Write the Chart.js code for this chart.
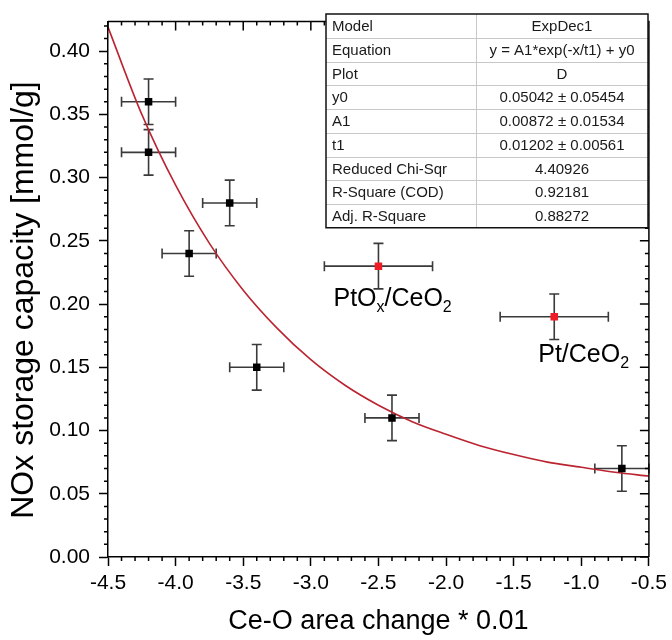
<!DOCTYPE html>
<html>
<head>
<meta charset="utf-8">
<script src="https://cdn.jsdelivr.net/npm/chart.js@4/dist/chart.umd.min.js"></script>
<style>
html, body { margin: 0; padding: 0; background: #fff; }
</style>
</head>
<body>
<canvas id="myChart" width="672" height="640"></canvas>
<script>
// measured samples
var blackX = [-4.2, -4.2, -3.9, -3.6, -3.4, -2.4, -0.7];
var blackY = [0.36, 0.32, 0.24, 0.28, 0.15, 0.11, 0.07];
var blackXErr = [0.2, 0.2, 0.2, 0.2, 0.2, 0.2, 0.2];
var blackYErr = [0.018, 0.018, 0.018, 0.018, 0.018, 0.018, 0.018];

// Pt samples (red)
var redX = [-2.5, -1.2];
var redY = [0.23, 0.19];
var redXErr = [0.4, 0.4];
var redYErr = [0.018, 0.018];

// fitted ExpDec1 curve
var fitX = [-4.5, -4.25, -4.0, -3.75, -3.5, -3.25, -3.0, -2.75, -2.5, -2.25, -2.0, -1.75, -1.5, -1.25, -1.0, -0.75, -0.5];
var fitY = [0.419, 0.350, 0.294, 0.248, 0.211, 0.181, 0.156, 0.136, 0.120, 0.107, 0.097, 0.088, 0.081, 0.075, 0.071, 0.067, 0.064];

// fit report table
var tableLabels = ['Model', 'Equation', 'Plot', 'y0', 'A1', 't1', 'Reduced Chi-Sqr', 'R-Square (COD)', 'Adj. R-Square'];
var tableValues = ['ExpDec1', 'y = A1*exp(-x/t1) + y0', 'D', '0.05042 \u00b1 0.05454', '0.00872 \u00b1 0.01534',
    '0.01202 \u00b1 0.00561', '4.40926', '0.92181', '0.88272'];

var FONT = '"Liberation Sans", Arial, sans-serif';

function pts(xs, ys) {
    return xs.map(function (x, i) { return { x: x, y: ys[i] }; });
}

var errorBars = {
    id: 'errorBars',
    beforeDatasetsDraw: function (chart) {
        var ctx = chart.ctx, sx = chart.scales.x, sy = chart.scales.y;
        var groups = [[blackX, blackY, blackXErr, blackYErr], [redX, redY, redXErr, redYErr]];
        ctx.save();
        ctx.strokeStyle = '#3a3a3a';
        ctx.lineWidth = 1.6;
        groups.forEach(function (g) {
            for (var i = 0; i < g[0].length; i++) {
                var cx = sx.getPixelForValue(g[0][i]), cy = sy.getPixelForValue(g[1][i]);
                var x1 = sx.getPixelForValue(g[0][i] - g[2][i]), x2 = sx.getPixelForValue(g[0][i] + g[2][i]);
                var y1 = sy.getPixelForValue(g[1][i] - g[3][i]), y2 = sy.getPixelForValue(g[1][i] + g[3][i]);
                ctx.beginPath();
                ctx.moveTo(x1, cy); ctx.lineTo(x2, cy);
                ctx.moveTo(x1, cy - 5); ctx.lineTo(x1, cy + 5);
                ctx.moveTo(x2, cy - 5); ctx.lineTo(x2, cy + 5);
                ctx.moveTo(cx, y1); ctx.lineTo(cx, y2);
                ctx.moveTo(cx - 5, y1); ctx.lineTo(cx + 5, y1);
                ctx.moveTo(cx - 5, y2); ctx.lineTo(cx + 5, y2);
                ctx.stroke();
            }
        });
        ctx.restore();
    }
};

var frame = {
    id: 'frame',
    afterDatasetsDraw: function (chart) {
        var ctx = chart.ctx, a = chart.chartArea, sx = chart.scales.x, sy = chart.scales.y;
        var v, p;
        ctx.save();
        ctx.strokeStyle = '#000';
        ctx.lineWidth = 1.5;
        ctx.beginPath();
        ctx.moveTo(a.left, a.top); ctx.lineTo(a.right, a.top); ctx.lineTo(a.right, a.bottom);
        // x minor ticks (out at bottom) + top ticks inward
        for (v = -45; v <= -5; v++) {
            p = sx.getPixelForValue(v / 10);
            var major = v % 5 === 0;
            if (!major) { ctx.moveTo(p, a.bottom); ctx.lineTo(p, a.bottom + 4); }
            ctx.moveTo(p, a.top); ctx.lineTo(p, a.top + (major ? 9 : 4));
        }
        for (v = 0; v <= 42; v++) {
            p = sy.getPixelForValue(v / 100);
            var maj = v % 5 === 0;
            if (!maj) { ctx.moveTo(a.left, p); ctx.lineTo(a.left - 4, p); }
            ctx.moveTo(a.right, p); ctx.lineTo(a.right - (maj ? 9 : 4), p);
        }
        ctx.stroke();
        ctx.restore();
    },
    afterDraw: function (chart) {
        var ctx = chart.ctx, sx = chart.scales.x, sy = chart.scales.y;
        ctx.save();
        // y axis title
        ctx.translate(24, 300);
        ctx.rotate(-Math.PI / 2);
        ctx.font = '32px ' + FONT;
        ctx.fillStyle = '#000';
        ctx.textAlign = 'center';
        ctx.textBaseline = 'middle';
        ctx.fillText('NOx storage capacity [mmol/g]', 0, 0);
        ctx.restore();

        // sample labels with subscripts
        var labelPos = [[-45, 40], [-16, 45]];
        ctx.save();
        ctx.fillStyle = '#000';
        ctx.textBaseline = 'alphabetic';
        for (var i = 0; i < redX.length; i++) {
            var x = sx.getPixelForValue(redX[i]) + labelPos[i][0];
            var y = sy.getPixelForValue(redY[i]) + labelPos[i][1];
            var parts = i === 0 ? [['PtO', 0], ['x', 1], ['/CeO', 0], ['2', 1]] : [['Pt/CeO', 0], ['2', 1]];
            parts.forEach(function (pt) {
                ctx.font = (pt[1] ? '16px ' : '25px ') + FONT;
                ctx.fillText(pt[0], x, y + (pt[1] ? 6 : 0));
                x += ctx.measureText(pt[0]).width;
            });
        }
        // fit report table
        var tx0 = 326, tx1 = 648, tmid = 476, ty0 = 14, rh = 23.75;
        var ty1 = ty0 + rh * tableLabels.length;
        ctx.fillStyle = '#fff';
        ctx.fillRect(tx0, ty0, tx1 - tx0, ty1 - ty0);
        ctx.strokeStyle = '#c8c8c8';
        ctx.lineWidth = 1;
        ctx.beginPath();
        for (var r = 1; r < tableLabels.length; r++) {
            ctx.moveTo(tx0, Math.round(ty0 + rh * r) + 0.5);
            ctx.lineTo(tx1, Math.round(ty0 + rh * r) + 0.5);
        }
        ctx.moveTo(tmid + 0.5, ty0); ctx.lineTo(tmid + 0.5, ty1);
        ctx.stroke();
        ctx.strokeStyle = '#111';
        ctx.lineWidth = 1.5;
        ctx.strokeRect(tx0, ty0, tx1 - tx0, ty1 - ty0);
        ctx.font = '15px ' + FONT;
        ctx.fillStyle = '#1a1a1a';
        ctx.textBaseline = 'middle';
        for (r = 0; r < tableLabels.length; r++) {
            var cy = ty0 + rh * r + rh / 2 + 1;
            ctx.textAlign = 'left';
            ctx.fillText(tableLabels[r], tx0 + 6, cy);
            ctx.textAlign = 'center';
            ctx.fillText(tableValues[r], (tmid + tx1) / 2, cy);
        }
        ctx.restore();
    }
};

var cvas = document.getElementById('myChart').getContext('2d');
var myChart = new Chart(cvas, {
    type: 'scatter',
    data: {
        datasets: [{
            label: 'ExpDec1 fit',
            data: pts(fitX, fitY),
            showLine: true,
            borderColor: '#bb2430',
            borderWidth: 1.6,
            pointRadius: 0,
            cubicInterpolationMode: 'monotone',
            order: 3
        }, {
            label: 'samples',
            data: pts(blackX, blackY),
            pointStyle: 'rect',
            pointRadius: 5.3,
            backgroundColor: '#000',
            borderColor: '#000',
            borderWidth: 0,
            order: 1
        }, {
            label: 'Pt samples',
            data: pts(redX, redY),
            pointStyle: 'rect',
            pointRadius: 5.3,
            backgroundColor: '#ee1c24',
            borderColor: '#ee1c24',
            borderWidth: 0,
            order: 2
        }]
    },
    options: {
        responsive: false,
        animation: false,
        layout: { padding: { left: 0, right: 23, top: 15, bottom: 0 } },
        plugins: { legend: { display: false }, tooltip: { enabled: false } },
        scales: {
            x: {
                type: 'linear',
                min: -4.5,
                max: -0.5,
                afterFit: function (s) { s.height = 83; },
                border: { color: '#000', width: 1.5 },
                grid: { drawOnChartArea: false, tickLength: 9, tickColor: '#000', tickWidth: 1.5 },
                ticks: {
                    stepSize: 0.5,
                    padding: 5,
                    color: '#000',
                    font: { family: FONT, size: 21 },
                    callback: function (v) { return v.toFixed(1); }
                },
                title: {
                    display: true,
                    text: 'Ce-O area change * 0.01',
                    color: '#000',
                    font: { family: FONT, size: 27 },
                    padding: { top: 0, bottom: 2 }
                }
            },
            y: {
                type: 'linear',
                min: 0,
                max: 0.4234,
                afterFit: function (s) { s.width = 108; },
                border: { color: '#000', width: 1.5 },
                grid: { drawOnChartArea: false, tickLength: 9, tickColor: '#000', tickWidth: 1.5 },
                ticks: {
                    stepSize: 0.05,
                    includeBounds: false,
                    padding: 9,
                    color: '#000',
                    font: { family: FONT, size: 21 },
                    callback: function (v) { return v.toFixed(2); }
                },
                title: { display: false }
            }
        }
    },
    plugins: [errorBars, frame]
});
</script>
</body>
</html>
